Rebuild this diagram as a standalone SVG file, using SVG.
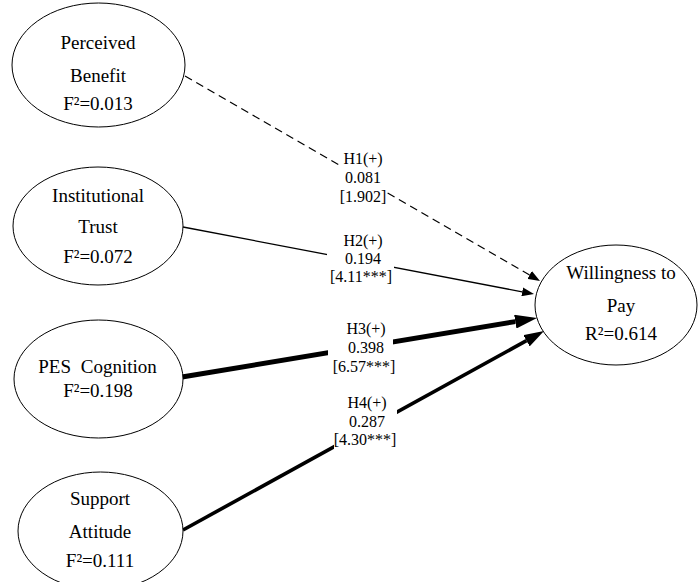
<svg xmlns="http://www.w3.org/2000/svg" width="698" height="582" viewBox="0 0 698 582">
  <style>
    .node ellipse { fill: #ffffff; stroke: #000000; stroke-width: 1; }
    .nt { font-family: "Liberation Serif", "Times New Roman", serif; font-size: 19px; fill: #000000; text-anchor: middle; }
    .lt { font-family: "Liberation Serif", "Times New Roman", serif; font-size: 16px; fill: #000000; text-anchor: middle; }
    .conn { fill: none; stroke: #000000; }
    .bg { fill: #ffffff; stroke: none; }
  </style>
  <defs>
    <marker id="arrS" markerUnits="userSpaceOnUse" markerWidth="13" markerHeight="9" refX="0" refY="4.5" orient="auto">
      <path d="M0,0 L12,4.5 L0,9 Z" fill="#000000"/>
    </marker>
    <marker id="arrL" markerUnits="userSpaceOnUse" markerWidth="23" markerHeight="14" refX="0" refY="7" orient="auto">
      <path d="M0,0 L22,7 L0,14 Z" fill="#000000"/>
    </marker>
    <marker id="arrM" markerUnits="userSpaceOnUse" markerWidth="21" markerHeight="13" refX="0" refY="6.5" orient="auto">
      <path d="M0,0 L20,6.5 L0,13 Z" fill="#000000"/>
    </marker>
  </defs>

  <rect x="0" y="0" width="698" height="582" fill="#ffffff"/>

  <g id="connectors">
    <path class="conn" d="M185,76 L529.6,275" stroke-width="1.2" stroke-dasharray="8,5" marker-end="url(#arrS)"/>
    <path class="conn" d="M183,227 L522.2,291.8" stroke-width="1.3" marker-end="url(#arrS)"/>
    <path class="conn" d="M182,377 L515.3,321.6" stroke-width="5" marker-end="url(#arrL)"/>
    <path class="conn" d="M183,530 L526.5,340.7" stroke-width="3.6" marker-end="url(#arrM)"/>
    <g id="labels">
      <rect class="bg" x="339" y="150" width="48" height="56"/>
      <text class="lt" x="363" y="164">H1(+)</text>
      <text class="lt" x="363" y="183">0.081</text>
      <text class="lt" x="363" y="202">[1.902]</text>
      <rect class="bg" x="327" y="232" width="67" height="54"/>
      <text class="lt" x="363" y="246">H2(+)</text>
      <text class="lt" x="363" y="264">0.194</text>
      <text class="lt" x="361" y="282">[4.11***]</text>
      <rect class="bg" x="328" y="318" width="65" height="58"/>
      <text class="lt" x="366" y="334">H3(+)</text>
      <text class="lt" x="366" y="353">0.398</text>
      <text class="lt" x="364" y="372">[6.57***]</text>
      <rect class="bg" x="334" y="393" width="63" height="57"/>
      <text class="lt" x="367" y="408">H4(+)</text>
      <text class="lt" x="367" y="427">0.287</text>
      <text class="lt" x="365" y="445">[4.30***]</text>
    </g>
  </g>

  <g id="node-perceived-benefit" class="node">
    <ellipse cx="98.5" cy="65" rx="86.5" ry="62"/>
    <text class="nt" x="98" y="49">Perceived</text>
    <text class="nt" x="98" y="82">Benefit</text>
    <text class="nt" x="98" y="110">F²=0.013</text>
  </g>

  <g id="node-institutional-trust" class="node">
    <ellipse cx="98" cy="226" rx="85" ry="59"/>
    <text class="nt" x="98" y="202">Institutional</text>
    <text class="nt" x="98" y="233">Trust</text>
    <text class="nt" x="98" y="263">F²=0.072</text>
  </g>

  <g id="node-pes-cognition" class="node">
    <ellipse cx="98.5" cy="379" rx="84.5" ry="59"/>
    <text class="nt" x="97.5" y="373" word-spacing="5">PES Cognition</text>
    <text class="nt" x="98" y="397">F²=0.198</text>
  </g>

  <g id="node-support-attitude" class="node">
    <ellipse cx="100.5" cy="531" rx="82.5" ry="59"/>
    <text class="nt" x="100" y="505">Support</text>
    <text class="nt" x="100" y="538">Attitude</text>
    <text class="nt" x="100" y="567">F²=0.111</text>
  </g>

  <g id="node-willingness-to-pay" class="node">
    <ellipse cx="616" cy="305" rx="81" ry="60"/>
    <text class="nt" x="621" y="279">Willingness to</text>
    <text class="nt" x="621" y="312">Pay</text>
    <text class="nt" x="621" y="340">R²=0.614</text>
  </g>
</svg>
